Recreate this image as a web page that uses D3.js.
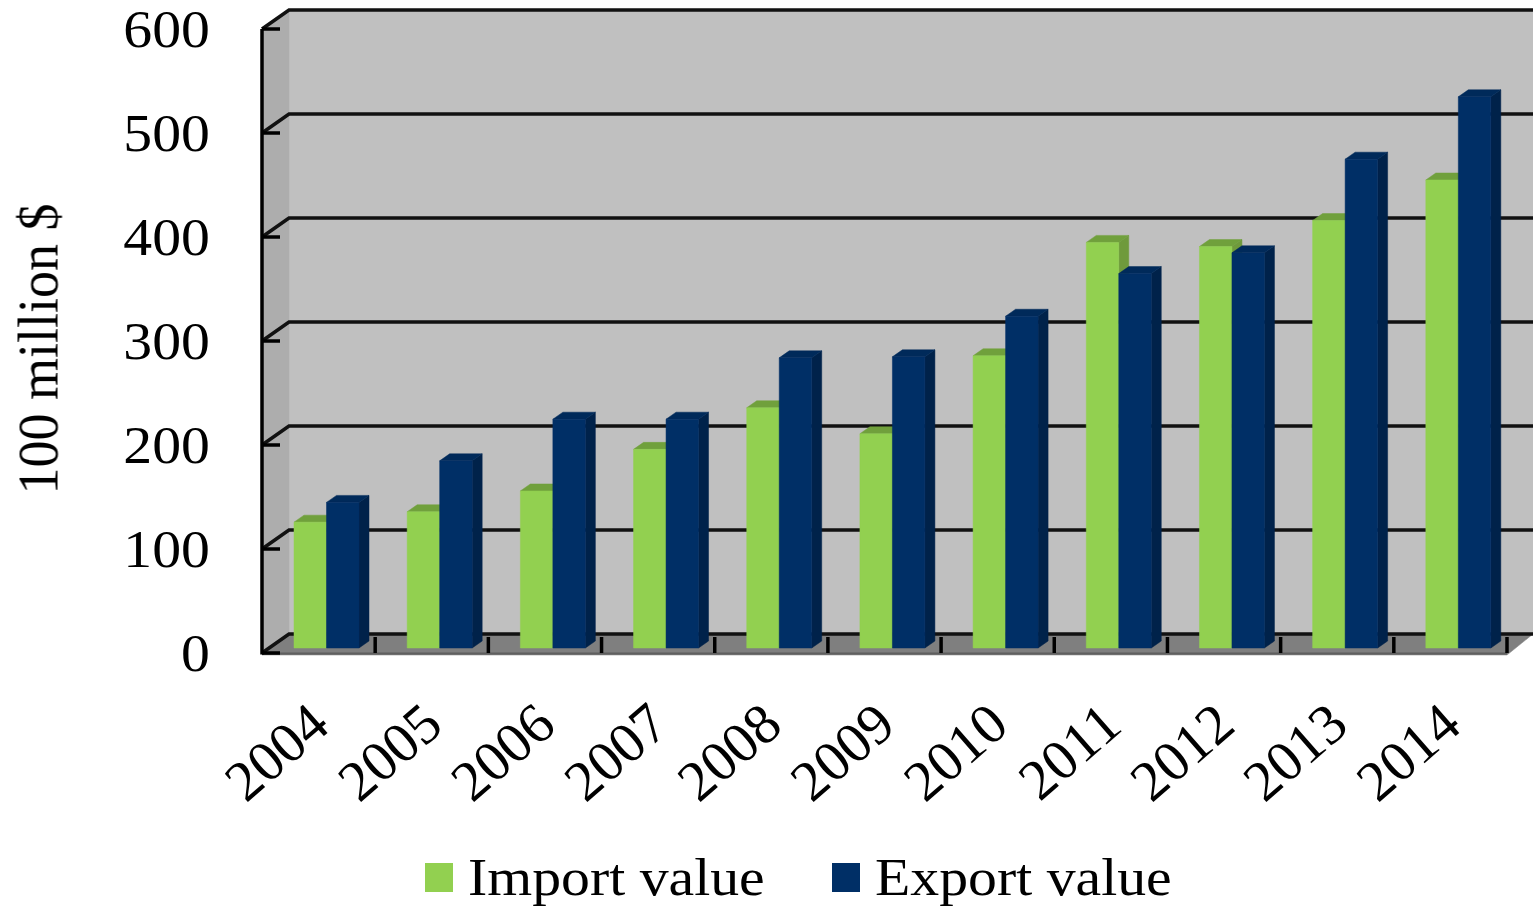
<!DOCTYPE html>
<html>
<head>
<meta charset="utf-8">
<script src="https://cdn.jsdelivr.net/npm/d3@7"></script>
<style>
body { margin: 0; background: #fff; }
svg { display: block; }
text { font-family: "Liberation Serif", serif; fill: #000; }
#plot { filter: blur(0.6px); }
</style>
</head>
<body>
<svg id="chart" width="1533" height="907"><g id="plot"></g></svg>
<script>

// === Data === //

var years = ['2004', '2005', '2006', '2007', '2008', '2009', '2010', '2011', '2012', '2013', '2014'];
var importValue = [121, 131, 151, 191, 231, 206, 281, 390, 386, 411, 450];
var exportValue = [140, 180, 220, 220, 279, 280, 319, 360, 380, 470, 530];
var yTicks = [0, 100, 200, 300, 400, 500, 600];
var seriesNames = ['Import value', 'Export value'];
var seriesFront = ['#92d050', '#002f66'];
var seriesTop = ['#70a03c', '#002a5a'];
var seriesSide = ['#6f9a3c', '#00224a'];


// === Layout === //

var svg = d3.select('#plot');

var left = 262, right = 1507;
var axisBottom = 653, axisTop = 29;
var wallDx = 27, wallDy = -19; // depth of the chart box
var barBase = 648;
var barDx = 10, barDy = -7; // depth of a bar
var chartRight = 1533;
var fontSize = 53;
var stretch = 1.09; // the reference text is wider than the plain font

var x = d3.scaleBand().domain(years).range([left, right]);
var xSeries = d3.scaleBand().domain(seriesNames).range([32, 97]);
var y = d3.scaleLinear().domain([0, 600]).range([axisBottom, axisTop]);


// === Box === //

function poly(points, fill) {
	svg.append('polygon')
		.attr('points', points.map(function(p) { return p.join(','); }).join(' '))
		.attr('fill', fill)
		.attr('stroke', fill)
		.attr('stroke-width', 0.5);
}

poly([[left + wallDx, y(600) + wallDy], [chartRight, y(600) + wallDy], [chartRight, y(0) + wallDy], [left + wallDx, y(0) + wallDy]], '#c0c0c0');
poly([[left, y(600)], [left + wallDx, y(600) + wallDy], [left + wallDx, y(0) + wallDy], [left, y(0)]], '#adadad');
poly([[left, y(0) + 2], [left + wallDx, y(0) + wallDy], [chartRight, y(0) + wallDy], [right, y(0) + 2]], '#7f7f7f');

svg.append('line')
	.attr('x1', left).attr('x2', right)
	.attr('y1', y(0) + 0.5).attr('y2', y(0) + 0.5)
	.attr('stroke', '#5f5f5f').attr('stroke-width', 2);

// grid lines go along the wall and round the corner to the axis
yTicks.forEach(function(t) {
	svg.append('polyline')
		.attr('points', [[left, y(t)], [left + wallDx, y(t) + wallDy], [chartRight, y(t) + wallDy]].map(function(p) { return p.join(','); }).join(' '))
		.attr('fill', 'none')
		.attr('stroke', '#111')
		.attr('stroke-width', 3.5);

	svg.append('line')
		.attr('x1', left).attr('x2', left + 18)
		.attr('y1', y(t)).attr('y2', y(t))
		.attr('stroke', '#000')
		.attr('stroke-width', 3.5);

	svg.append('text')
		.attr('transform', 'translate(210,' + (y(t) + 18) + ') scale(' + stretch + ',1)')
		.attr('text-anchor', 'end')
		.attr('font-size', fontSize)
		.text(t);
});

svg.append('line')
	.attr('x1', left).attr('x2', left)
	.attr('y1', y(600)).attr('y2', y(0) + 1.5)
	.attr('stroke', '#000').attr('stroke-width', 3.5);

years.forEach(function(d) {
	var tickX = x(d) + x.bandwidth();
	svg.append('line')
		.attr('x1', tickX).attr('x2', tickX)
		.attr('y1', y(0) - 16).attr('y2', y(0))
		.attr('stroke', '#000').attr('stroke-width', 3.5);
});


// === Bars === //

function drawBar(year, value, s) {
	var x0 = x(year) + xSeries(seriesNames[s]);
	var x1 = x0 + xSeries.bandwidth();
	var top = barBase - (axisBottom - y(value));

	poly([[x1, top], [x1 + barDx, top + barDy], [x1 + barDx, barBase + barDy], [x1, barBase]], seriesSide[s]);
	poly([[x0, top], [x0 + barDx, top + barDy], [x1 + barDx, top + barDy], [x1, top]], seriesTop[s]);
	poly([[x0, top], [x1, top], [x1, barBase], [x0, barBase]], seriesFront[s]);
}

years.forEach(function(d, i) {
	drawBar(d, importValue[i], 0);
	drawBar(d, exportValue[i], 1);
});


// === Labels === //

years.forEach(function(d) {
	var lx = x(d) + 70, ly = 729;
	svg.append('text')
		.attr('transform', 'translate(' + lx + ',' + ly + ') rotate(-41)')
		.attr('text-anchor', 'end')
		.attr('font-size', 57)
		.text(d);
});

svg.append('text')
	.attr('transform', 'translate(57,349) rotate(-90) scale(1,1.07)')
	.attr('text-anchor', 'middle')
	.attr('font-size', 54)
	.text('100 million $');


// === Legend === //

var legendX = [425, 832];

seriesNames.forEach(function(name, i) {
	svg.append('rect')
		.attr('x', legendX[i]).attr('y', 863)
		.attr('width', 28).attr('height', 29)
		.attr('fill', seriesFront[i]);

	svg.append('text')
		.attr('transform', 'translate(' + (legendX[i] + 43) + ',895) scale(' + stretch + ',1)')
		.attr('font-size', fontSize)
		.text(name);
});

</script>
</body>
</html>
